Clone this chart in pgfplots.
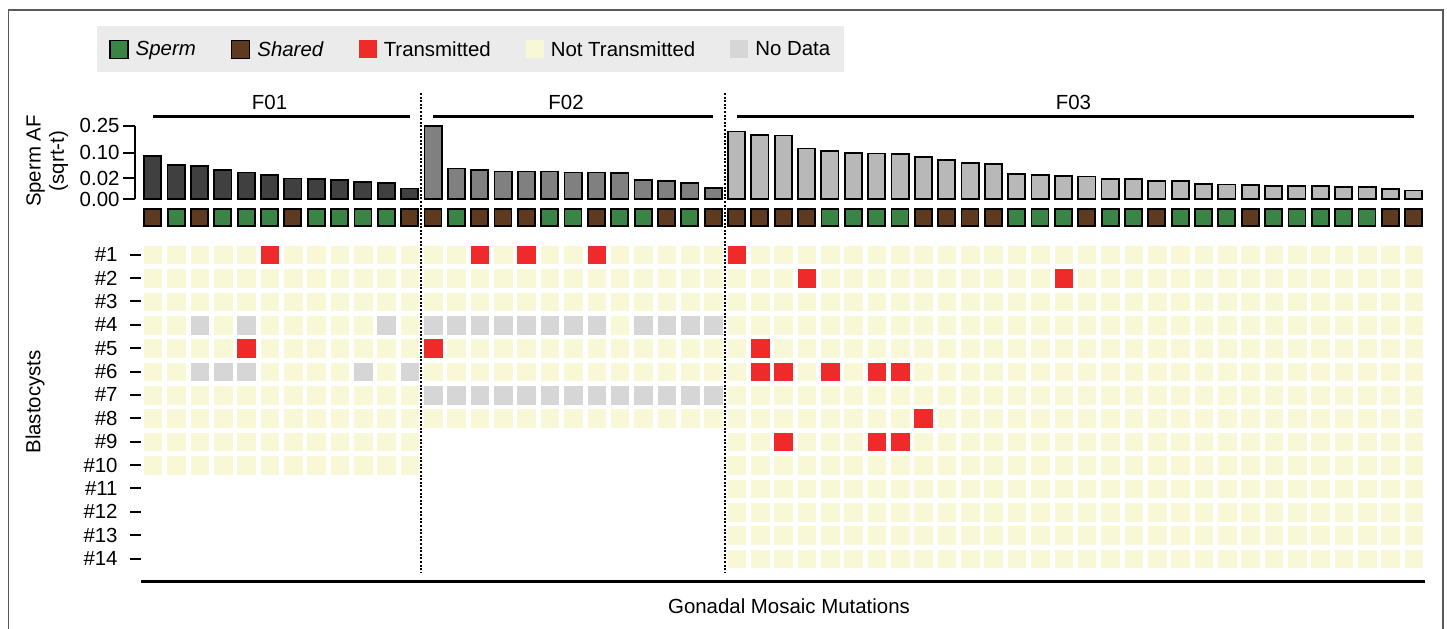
\documentclass[border=0pt]{standalone}
\usepackage{pgfplots}
\pgfplotsset{compat=1.18}
\usepackage{pgfplotstable}
\usepackage{fontspec}
\setmainfont{Liberation Sans}
\definecolor{spermgreen}{HTML}{3A8446}
\definecolor{sharedbrown}{HTML}{5E3A1F}
\definecolor{transred}{HTML}{EE2A2A}
\definecolor{nottrans}{HTML}{F8F8D6}
\definecolor{nodata}{HTML}{D6D6D6}
\definecolor{legbg}{HTML}{EBEBEB}
\definecolor{barA}{HTML}{404040}
\definecolor{barB}{HTML}{808080}
\definecolor{barC}{HTML}{B8B8B8}
\definecolor{framegray}{HTML}{5A5A5A}

\pgfplotsset{
  sqlegb/.style={legend image code/.code={\filldraw[##1] (0bp,-9bp) rectangle (18bp,9bp);}},
  sqlegf/.style={legend image code/.code={\path[##1, draw=none] (0bp,-9bp) rectangle (18bp,9bp);}},
}

% c = mutation column, k = P (Sperm) / S (Shared); r1..r14 blastocysts:
% N = not transmitted, T = transmitted, D = no data, X = none
\pgfplotstableread{
c k r1 r2 r3 r4 r5 r6 r7 r8 r9 r10 r11 r12 r13 r14
1 S N N N N N N N N N N X X X X
2 P N N N N N N N N N N X X X X
3 S N N N D N D N N N N X X X X
4 P N N N N N D N N N N X X X X
5 P N N N D T D N N N N X X X X
6 P T N N N N N N N N N X X X X
7 S N N N N N N N N N N X X X X
8 P N N N N N N N N N N X X X X
9 P N N N N N N N N N N X X X X
10 P N N N N N D N N N N X X X X
11 P N N N D N N N N N N X X X X
12 S N N N N N D N N N N X X X X
13 S N N N D T N D N X X X X X X
14 P N N N D N N D N X X X X X X
15 S T N N D N N D N X X X X X X
16 S N N N D N N D N X X X X X X
17 S T N N D N N D N X X X X X X
18 P N N N D N N D N X X X X X X
19 P N N N D N N D N X X X X X X
20 S T N N D N N D N X X X X X X
21 P N N N N N N D N X X X X X X
22 P N N N D N N D N X X X X X X
23 S N N N D N N D N X X X X X X
24 P N N N D N N D N X X X X X X
25 S N N N D N N D N X X X X X X
26 S T N N N N N N N N N N N N N
27 S N N N N T T N N N N N N N N
28 S N N N N N T N N T N N N N N
29 S N T N N N N N N N N N N N N
30 P N N N N N T N N N N N N N N
31 P N N N N N N N N N N N N N N
32 P N N N N N T N N T N N N N N
33 P N N N N N T N N T N N N N N
34 S N N N N N N N T N N N N N N
35 S N N N N N N N N N N N N N N
36 S N N N N N N N N N N N N N N
37 S N N N N N N N N N N N N N N
38 P N N N N N N N N N N N N N N
39 P N N N N N N N N N N N N N N
40 P N T N N N N N N N N N N N N
41 S N N N N N N N N N N N N N N
42 P N N N N N N N N N N N N N N
43 P N N N N N N N N N N N N N N
44 S N N N N N N N N N N N N N N
45 P N N N N N N N N N N N N N N
46 P N N N N N N N N N N N N N N
47 P N N N N N N N N N N N N N N
48 S N N N N N N N N N N N N N N
49 P N N N N N N N N N N N N N N
50 P N N N N N N N N N N N N N N
51 P N N N N N N N N N N N N N N
52 P N N N N N N N N N N N N N N
53 P N N N N N N N N N N N N N N
54 S N N N N N N N N N N N N N N
55 S N N N N N N N N N N N N N N
}\heat

\begin{document}
\begin{tikzpicture}[font=\fontsize{20.5}{23.5}\selectfont]
\useasboundingbox (0,0) rectangle (1447bp,629bp);
\draw[framegray, line width=1.5bp] (8.5bp,0) -- (8.5bp,619bp) -- (1443bp,619bp) -- (1443bp,0);

% ---------- Sperm AF bars ----------
\begin{axis}[
  at={(135bp,429.7bp)}, anchor=south west,
  scale only axis, width=1290.37bp, height=73.6bp,
  xmin=0.2377, xmax=55.5, ymin=0, ymax=0.25,
  y coord trafo/.code={\pgfmathparse{sqrt(#1)}},
  y coord inv trafo/.code={\pgfmathparse{(#1)^2}},
  axis x line=none, axis y line*=left,
  y axis line style={line width=2bp},
  ytick={0,0.02,0.1,0.25}, yticklabels={0.00,0.02,0.10,0.25},
  tick align=outside, major tick length=12bp,
  ytick style={line width=2bp, black},
  ybar, bar width=17.2bp,
  ylabel={Sperm AF\\(sqrt-t)},
  ylabel style={at={(axis description cs:-0.068,0.52)}, anchor=center, align=center},
  clip=false,
]
\addplot[fill=barA, draw=black, line width=1.8bp, bar shift=0pt] coordinates {
 (1,0.087) (2,0.054) (3,0.050) (4,0.040) (5,0.033) (6,0.028)
 (7,0.020) (8,0.0185) (9,0.0173) (10,0.0144) (11,0.0123) (12,0.0053)};
\addplot[fill=barB, draw=black, line width=1.8bp, bar shift=0pt] coordinates {
 (13,0.249) (14,0.0435) (15,0.039) (16,0.0354) (17,0.0354) (18,0.0354)
 (19,0.033) (20,0.033) (21,0.031) (22,0.0173) (23,0.0156) (24,0.0119) (25,0.0063)};
\addplot[fill=barC, draw=black, line width=1.8bp, bar shift=0pt] coordinates {
 (26,0.212) (27,0.192) (28,0.188) (29,0.119) (30,0.108) (31,0.098)
 (32,0.097) (33,0.095) (34,0.084) (35,0.072) (36,0.062) (37,0.057)
 (38,0.030) (39,0.027) (40,0.025) (41,0.024) (42,0.019) (43,0.019)
 (44,0.016) (45,0.015) (46,0.0104) (47,0.0100) (48,0.0091) (49,0.0083)
 (50,0.0083) (51,0.0078) (52,0.0074) (53,0.0067) (54,0.0049) (55,0.0035)};
\end{axis}

% ---------- Heat map ----------
\begin{axis}[
  at={(141.1bp,47.3bp)}, anchor=south west,
  scale only axis, width=1284.25bp, height=373.69bp,
  xmin=0.5, xmax=55.5, ymin=-14.99, ymax=1.0,
  axis x line*=bottom, axis y line*=left,
  x axis line style={line width=3bp},
  y axis line style={draw=none},
  xtick=\empty,
  ytick={-1,-2,-3,-4,-5,-6,-7,-8,-9,-10,-11,-12,-13,-14},
  yticklabels={\#1,\#2,\#3,\#4,\#5,\#6,\#7,\#8,\#9,\#10,\#11,\#12,\#13,\#14},
  yticklabel style={xshift=-9bp},
  tick align=outside, major tick length=11bp,
  ytick style={line width=2bp, black},
  xlabel={Gonadal Mosaic Mutations},
  xlabel style={at={(axis description cs:0.5045,0)}, anchor=center, yshift=-24bp},
  ylabel={Blastocysts},
  ylabel style={at={(axis description cs:-0.0826,0.481)}, anchor=center},
  clip=false,
  legend columns=5,
  legend cell align=left,
  legend style={at={(axis description cs:-0.0343,1.487)}, anchor=north west,
    fill=legbg, draw=none, inner xsep=12bp, inner ysep=13bp,
    /tikz/every odd column/.append style={column sep=5bp},
    /tikz/every even column/.append style={column sep=33bp}},
]
\addlegendimage{sqlegb, fill=spermgreen, draw=black, line width=1.5bp}
\addlegendentry{\textit{Sperm}}
\addlegendimage{sqlegb, fill=sharedbrown, draw=black, line width=1.5bp}
\addlegendentry{\textit{Shared}}
\addlegendimage{sqlegf, fill=transred}
\addlegendentry{Transmitted}
\addlegendimage{sqlegf, fill=nottrans}
\addlegendentry{Not Transmitted}
\addlegendimage{sqlegf, fill=nodata}
\addlegendentry{No Data}

\addplot[forget plot, scatter, only marks, mark=square*, mark size=8.5bp, line width=1.8bp,
  scatter src=explicit symbolic,
  scatter/classes={P={draw=black,fill=spermgreen}, S={draw=black,fill=sharedbrown}}]
  table[x=c, y expr=0.6, meta=k] {\heat};

\pgfplotsinvokeforeach{1,...,14}{
\addplot[forget plot, scatter, only marks, mark=square*, mark size=8.8bp, line width=0.2bp,
  scatter src=explicit symbolic,
  scatter/classes={N={nottrans}, T={transred}, D={nodata}, X={opacity=0}}]
  table[x=c, y expr=-#1, meta=r#1] {\heat};
}

\draw[line width=3bp] (axis cs:1,4.9) -- (axis cs:12,4.9);
\draw[line width=3bp] (axis cs:13,4.9) -- (axis cs:25,4.9);
\draw[line width=3bp] (axis cs:26,4.9) -- (axis cs:55,4.9);
\node at (axis cs:6.0,5.5) {F01};
\node at (axis cs:18.7,5.5) {F02};
\node at (axis cs:40.43,5.5) {F03};
\draw[line width=2bp, dash pattern=on 2bp off 1.6bp] (axis cs:12.5,5.92) -- (axis cs:12.5,-14.57);
\draw[line width=2bp, dash pattern=on 2bp off 1.6bp] (axis cs:25.5,5.92) -- (axis cs:25.5,-14.57);
\end{axis}
\end{tikzpicture}
\end{document}
